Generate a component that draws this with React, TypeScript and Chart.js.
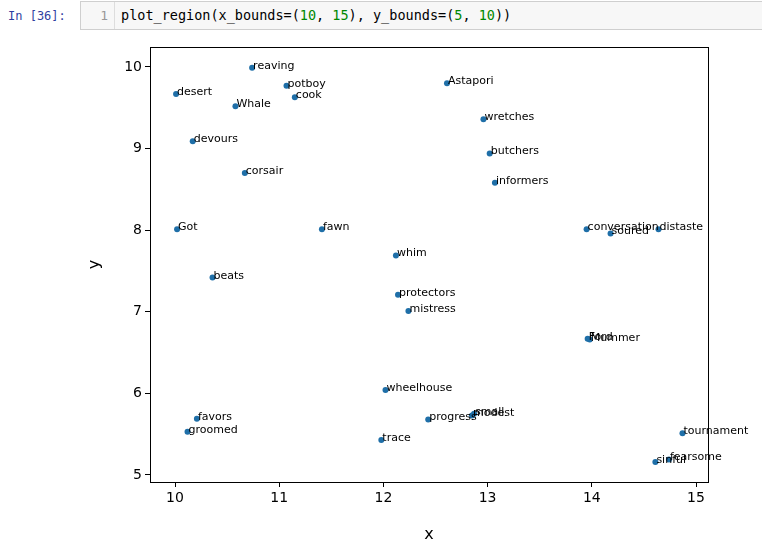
import React, { useEffect, useRef } from "react";
import { Chart, registerables } from "chart.js";
Chart.register(...registerables);

const words = ["reaving","potboy","cook","desert","Whale","Astapori","wretches","butchers","informers","devours","corsair","Got","fawn","conversation","soured","distaste","whim","beats","protectors","mistress","Ford","Mummer","wheelhouse","favors","groomed","progress","small","modest","trace","tournament","sinful","fearsome"];
const xs = [10.74,11.07,11.15,10.01,10.58,12.61,12.96,13.02,13.07,10.17,10.67,10.02,11.41,13.95,14.18,14.64,12.12,10.36,12.14,12.24,13.96,13.98,12.02,10.21,10.12,12.43,12.87,12.85,11.98,14.87,14.61,14.74];
const ys = [9.99,9.77,9.63,9.67,9.52,9.80,9.36,8.94,8.58,9.09,8.70,8.01,8.01,8.01,7.96,8.01,7.69,7.42,7.21,7.01,6.67,6.66,6.04,5.69,5.53,5.68,5.75,5.73,5.43,5.51,5.16,5.19];
const xTicks = [10,11,12,13,14,15];
const yTicks = [5,6,7,8,9,10];

export default function App() {
  const ref = useRef<HTMLCanvasElement>(null);
  useEffect(() => {
    const labelPlugin = {
      id: "lbl",
      afterDatasetsDraw(chart: any) {
        const { ctx, scales } = chart;
        ctx.save();
        ctx.font = "11px 'DejaVu Sans'";
        ctx.fillStyle = "#000";
        ctx.textBaseline = "alphabetic";
        words.forEach((w, i) => {
          ctx.fillText(w, scales.x.getPixelForValue(xs[i]) + 1, scales.y.getPixelForValue(ys[i]) + 1);
        });
        const a = chart.chartArea;
        ctx.strokeStyle = "#000";
        ctx.lineWidth = 1;
        ctx.strokeRect(a.left + 0.5, a.top + 0.5, a.right - a.left, a.bottom - a.top);
        ctx.restore();
      },
    };
    const tickFont = { family: "DejaVu Sans", size: 14 };
    const c = new Chart(ref.current!, {
      type: "scatter",
      data: { datasets: [{ data: xs.map((x, i) => ({ x, y: ys[i] })), backgroundColor: "#1f6fa8", borderWidth: 0, pointRadius: 3 }] },
      options: {
        animation: false, responsive: false,
        layout: { padding: { top: 12, right: 54, left: 0, bottom: 0 } },
        plugins: { legend: { display: false }, tooltip: { enabled: false } },
        scales: {
          x: {
            type: "linear", min: 9.76, max: 15.115,
            afterBuildTicks: (s: any) => { s.ticks = xTicks.map(v => ({ value: v })); },
            afterFit: (s: any) => { s.height = 62; },
            ticks: { color: "#000", font: tickFont, callback: (v: any) => String(v) },
            grid: { drawOnChartArea: false, color: "#000", tickLength: 5 },
            border: { color: "#000" },
            title: { display: true, text: "x", color: "#000", font: { family: "DejaVu Sans", size: 16 }, padding: 0 },
          },
          y: {
            type: "linear", min: 4.914, max: 10.245,
            afterBuildTicks: (s: any) => { s.ticks = yTicks.map(v => ({ value: v })); },
            afterFit: (s: any) => { s.width = 65; },
            ticks: { color: "#000", font: tickFont, callback: (v: any) => String(v) },
            grid: { drawOnChartArea: false, color: "#000", tickLength: 5 },
            border: { color: "#000" },
            title: { display: true, text: "y", color: "#000", font: { family: "DejaVu Sans", size: 16 }, padding: 0 },
          },
        },
      },
      plugins: [labelPlugin],
    } as any);
    return () => c.destroy();
  }, []);
  const mono = "'DejaVu Sans Mono', monospace";
  const g = { color: "#008800" };
  return (
    <div style={{ position: "fixed", left: 0, top: 0, width: 762, height: 544, background: "#fff", overflow: "hidden" }}>
      <div style={{ position: "absolute", left: 8, top: 9, fontFamily: mono, fontSize: 12, color: "#303f9f" }}>In [36]:</div>
      <div style={{ position: "absolute", left: 80, top: 1, width: 690, height: 29, background: "#f7f7f7", border: "1px solid #cfcfcf", boxSizing: "border-box" }}>
        <div style={{ position: "absolute", left: 0, top: 0, width: 34, height: 27, borderRight: "1px solid #ddd", color: "#999", fontFamily: mono, fontSize: 13, textAlign: "right", paddingRight: 6, boxSizing: "border-box", lineHeight: "27px" }}>1</div>
        <div style={{ position: "absolute", left: 40, top: 0, lineHeight: "27px", fontFamily: mono, fontSize: 13.5, color: "#000", whiteSpace: "pre" }}>
          plot_region(x_bounds=(<span style={g}>10</span>, <span style={g}>15</span>), y_bounds=(<span style={g}>5</span>, <span style={g}>10</span>))
        </div>
      </div>
      <canvas ref={ref} width={677} height={509} style={{ position: "absolute", left: 85, top: 35, width: 677, height: 509 }} />
    </div>
  );
}
